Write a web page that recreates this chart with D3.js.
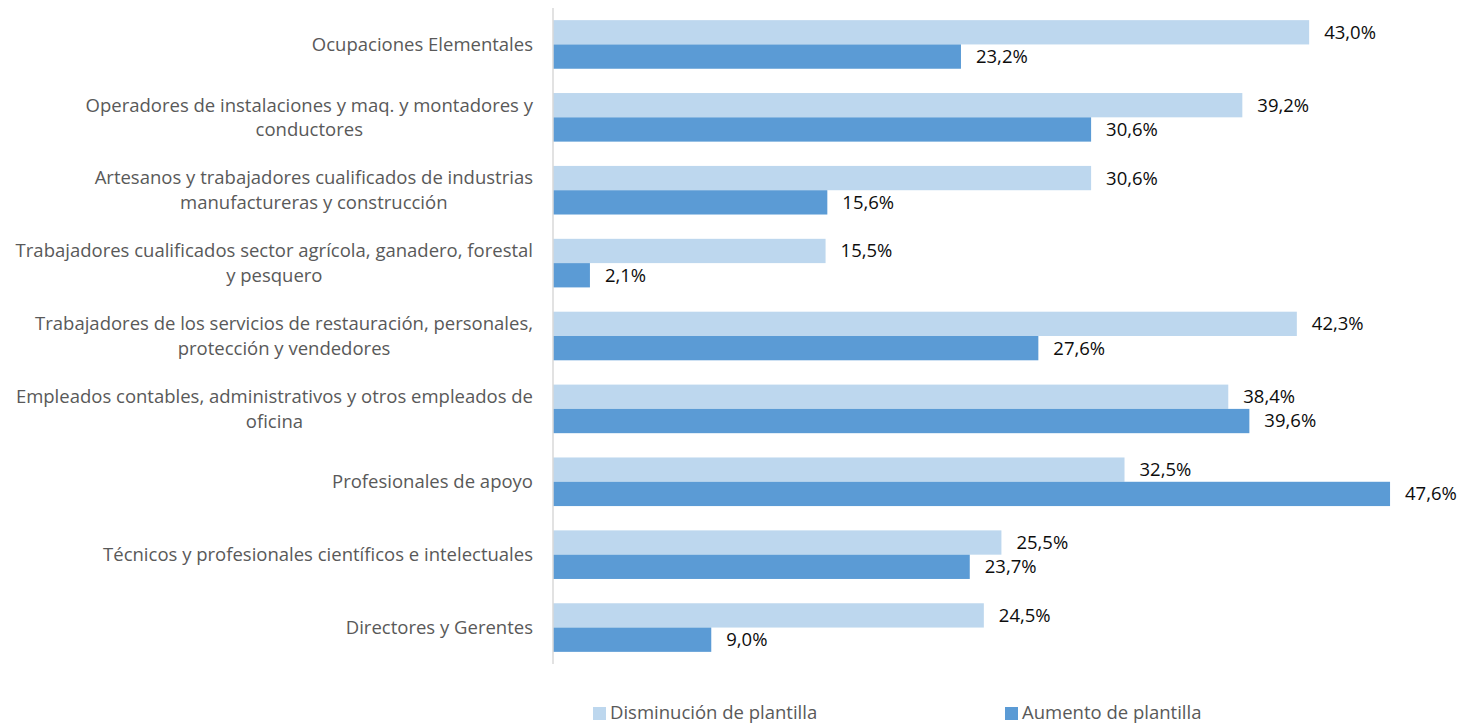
<!DOCTYPE html>
<html>
<head>
<meta charset="utf-8">
<script src="https://cdn.jsdelivr.net/npm/d3@7/dist/d3.min.js"></script>
<style>
  html, body { margin: 0; padding: 0; background: #fff; }
  svg { display: block; font-family: "Open Sans", "Noto Sans", sans-serif; }
</style>
</head>
<body>
<svg id="chart" width="1464" height="725"></svg>
<script>
// Occupational groups, top to bottom; each entry holds the label lines
const categories = [
  ["Ocupaciones Elementales"],
  ["Operadores de instalaciones y maq. y montadores y", "conductores"],
  ["Artesanos y trabajadores cualificados de industrias", "manufactureras y construcción"],
  ["Trabajadores cualificados sector agrícola, ganadero, forestal", "y pesquero"],
  ["Trabajadores de los servicios de restauración, personales,", "protección y vendedores"],
  ["Empleados contables, administrativos y otros empleados de", "oficina"],
  ["Profesionales de apoyo"],
  ["Técnicos y profesionales científicos e intelectuales"],
  ["Directores y Gerentes"]
];

const seriesNames = ["Disminución de plantilla", "Aumento de plantilla"];
const disminucion = [43.0, 39.2, 30.6, 15.5, 42.3, 38.4, 32.5, 25.5, 24.5];
const aumento     = [23.2, 30.6, 15.6, 2.1, 27.6, 39.6, 47.6, 23.7, 9.0];
const seriesColors = ["#BDD7EE", "#5B9BD5"];

const svg = d3.select("#chart");
const fontSize = 18.5;
const axisX = 553, plotTop = 8, plotBottom = 664;

const idx = d3.range(categories.length);
const y = d3.scaleBand().domain(idx).range([plotTop, plotBottom]).paddingInner(1/3).paddingOuter(1/6);
const ySub = d3.scaleBand().domain([0, 1]).range([0, y.bandwidth()]);
const x = d3.scaleLinear().domain([0, 50]).range([axisX, axisX + 50 * 17.585]);

const rows = idx.map(i => ({ i, vals: [disminucion[i], aumento[i]] }));

// bars
const g = svg.append("g");
const groups = g.selectAll("g.cat").data(rows).join("g")
  .attr("class", "cat")
  .attr("transform", d => `translate(0,${y(d.i)})`);

groups.selectAll("rect").data(d => d.vals.map((v, s) => ({ v, s }))).join("rect")
  .attr("x", x(0))
  .attr("y", d => ySub(d.s))
  .attr("width", d => x(d.v) - x(0))
  .attr("height", ySub.bandwidth())
  .attr("fill", d => seriesColors[d.s]);

// value labels
const fmt = v => v.toFixed(1).replace(".", ",") + "%";
groups.selectAll("text.val").data(d => d.vals.map((v, s) => ({ v, s }))).join("text")
  .attr("class", "val")
  .attr("x", d => x(d.v) + 15)
  .attr("y", d => ySub(d.s) + ySub.bandwidth() / 2)
  .attr("dy", "0.35em")
  .attr("font-size", fontSize)
  .attr("fill", "#0d0d0d")
  .text(d => fmt(d.v));

// vertical category axis line
svg.append("line")
  .attr("x1", axisX).attr("x2", axisX)
  .attr("y1", plotTop).attr("y2", plotBottom)
  .attr("stroke", "#D9D9D9").attr("stroke-width", 1.5);

// category labels: a centred block of lines, right-aligned against the axis
const labelRight = axisX - 20;
const lineH = 24.5;
categories.forEach((lines, i) => {
  const cy = y(i) + y.bandwidth() / 2;
  const tmp = svg.append("g");
  const texts = lines.map((t, k) => tmp.append("text")
    .attr("font-size", fontSize)
    .attr("fill", "#595959")
    .attr("text-anchor", "middle")
    .attr("dy", "0.35em")
    .text(t));
  const w = d3.max(texts, t => t.node().getComputedTextLength());
  const cx = labelRight - w / 2;
  texts.forEach((t, k) => {
    t.attr("x", cx).attr("y", cy + (k - (lines.length - 1) / 2) * lineH);
  });
});

// legend
const legendY = 713;
const legendX = [593, 1005];
seriesNames.forEach((name, s) => {
  const lg = svg.append("g").attr("transform", `translate(${legendX[s]},${legendY})`);
  lg.append("rect").attr("x", 0).attr("y", -6).attr("width", 13).attr("height", 13)
    .attr("fill", seriesColors[s]);
  lg.append("text").attr("x", 17).attr("y", 0).attr("dy", "0.35em")
    .attr("font-size", fontSize).attr("fill", "#595959").text(name);
});
</script>
</body>
</html>
